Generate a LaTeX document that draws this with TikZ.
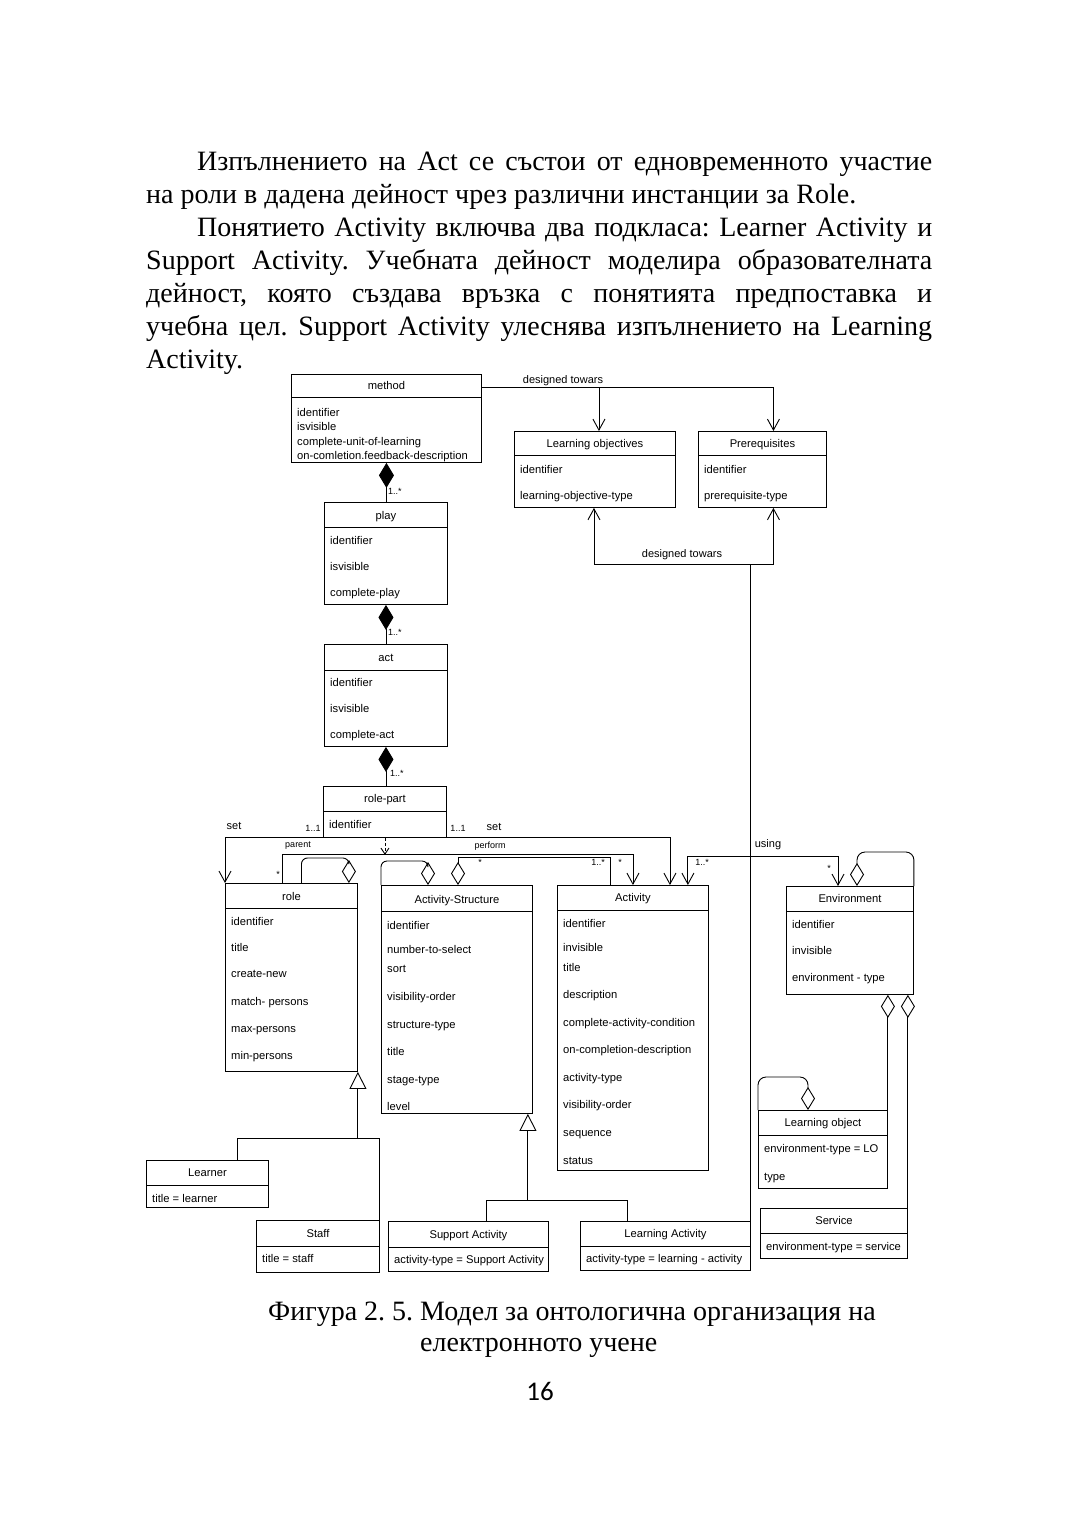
\documentclass[tikz,border=0pt]{standalone}
\usepackage{fontspec}
\setmainfont{Liberation Serif}
\newfontfamily\umlsans{Liberation Sans}
\newfontfamily\pagenum{Carlito}
\usetikzlibrary{arrows.meta,calc,positioning}
\frenchspacing

\tikzset{
  tekst/.style={font=\fontsize{28}{33}\selectfont, anchor=base west, inner sep=0pt},
  klas/.style={draw, line width=0.9pt, inner sep=0pt, anchor=north west},
  ime/.style={font=\umlsans\fontsize{11.2}{13}\selectfont, anchor=base, inner sep=0pt},
  attr/.style={font=\umlsans\fontsize{11.2}{13}\selectfont, anchor=base west, inner sep=0pt},
  etiket/.style={font=\umlsans\fontsize{11}{13}\selectfont, inner sep=0pt},
  malak/.style={font=\umlsans\fontsize{9}{11}\selectfont, inner sep=0pt},
  vrazka/.style={line width=0.9pt},
  strelka/.style={vrazka, -{Straight Barb[length=11pt,width=12pt]}},
  dvoyna/.style={vrazka, {Straight Barb[length=11pt,width=12pt]}-{Straight Barb[length=11pt,width=12pt]}},
  komp/.style={vrazka, {Diamond[length=25pt,width=15pt]}-},
  agr/.style={vrazka, {Diamond[open,length=23pt,width=14pt]}-},
  gen/.style={vrazka, {Triangle[open,length=17pt,width=17pt]}-}
}

\begin{document}
\begin{tikzpicture}[x=1pt, y=-1pt]
    \useasboundingbox (0,0) rectangle (1080,1532);
    \fill[white] (0,0) rectangle (1080,1532);

    % текст над фигурата
    \node[tekst] (p1) at (197,170) {\makebox[735pt][s]{Изпълнението на Act се състои от едновременното участие}};
    \node[tekst] (p2) at (146,203) {на роли в дадена дейност чрез различни инстанции за Role.};
    \node[tekst] (p3) at (197,236) {\makebox[735pt][s]{Понятието Activity включва два подкласа: Learner Activity и}};
    \node[tekst] (p4) at (146,269) {\makebox[786pt][s]{Support Activity. Учебната дейност моделира образователната}};
    \node[tekst] (p5) at (146,302) {\makebox[786pt][s]{дейност, която създава връзка с понятията предпоставка и}};
    \node[tekst] (p6) at (146,335) {\makebox[786pt][s]{учебна цел. Support Activity улеснява изпълнението на Learning}};
    \node[tekst] (p7) at (146,368) {Activity.};

    % класове: име/x/y/ширина/височина/линия/заглавие/y на заглавието
    \foreach \n/\x/\y/\w/\h/\hy/\t/\ty in {
        method/291/374/190/88/397/method/385,
        lo/514/431/161/76/455/Learning objectives/443,
        prq/698/431/128/76/455/Prerequisites/443,
        play/324/502/123/102/527/play/515,
        act/324/644/123/102/670/act/657,
        rp/323/786/123/51/811/role-part/798,
        role/225/883/132/188/908/role/896,
        as/381/885/151/228/911/Activity-Structure/899,
        actv/557/885/151/285/910/Activity/897,
        env/786/886/127/108/911/Environment/898,
        lobj/758/1110/129/78/1135/Learning object/1122,
        srv/760/1208/147/50/1233/Service/1220,
        lrn/146/1160/122/47/1185/Learner/1172,
        stf/256/1220/123/52/1246/Staff/1233,
        sup/388/1221/160/50/1247/Support Activity/1234,
        lact/580/1221/170/49/1246/Learning Activity/1233} {
        \node[klas, minimum width=\w, minimum height=\h] (\n) at (\x,\y) {};
        \draw[vrazka] (\n.west |- 0,\hy) -- (\n.east |- 0,\hy);
        \node[ime] (\n-t) at ($(\n.north |- 0,\ty)+(0,4)$) {\t};
    }

    % атрибути
    \foreach \n/\l in {
        method/{412/identifier,426/isvisible,441/complete-unit-of-learning,455/on-comletion.feedback-description},
        lo/{469/identifier,495/learning-objective-type},
        prq/{469/identifier,495/prerequisite-type},
        play/{540/identifier,566/isvisible,592/complete-play},
        act/{682/identifier,708/isvisible,734/complete-act},
        rp/{824/identifier},
        role/{921/identifier,947/title,973/create-new,1001/match- persons,1028/max-persons,1055/min-persons},
        as/{925/identifier,949/number-to-select,968/sort,996/visibility-order,1024/structure-type,1051/title,1079/stage-type,1106/level},
        actv/{923/identifier,947/invisible,967/title,994/description,1022/complete-activity-condition,1049/on-completion-description,1077/activity-type,1104/visibility-order,1132/sequence,1160/status},
        env/{924/identifier,950/invisible,977/environment - type},
        lobj/{1148/environment-type = LO,1176/type},
        srv/{1246/environment-type = service},
        lrn/{1198/title = learner},
        stf/{1258/title = staff},
        sup/{1259/activity-type = Support Activity},
        lact/{1258/activity-type = learning - activity}} {
        \foreach \ay/\a [count=\i] in \l {
            \node[attr] (\n-a\i) at ($(\n.west |- 0,\ay)+(6,4)$) {\a};
        }
    }

    % designed towars
    \coordinate (dt) at ($(method.north east)+(0,13)$);
    \draw[strelka] (dt) -| ($(prq.north)+(11,0)$);
    \draw[strelka] ($(dt -| lo.north)+(4,0)$) -- ($(lo.north)+(4,0)$);
    \node[etiket] (dt-l) at (563,381) {designed towars};
    \coordinate (db) at (lact.north east |- 0,564);
    \draw[vrazka] (lact.north east) -- (db);
    \draw[strelka] (db) -| ($(prq.south)+(11,0)$);
    \draw[strelka] (db) -| ($(lo.south)+(-1,0)$);
    \node[etiket] (db-l) at (682,555) {designed towars};

    % композиция
    \draw[komp] (method.south) -- (method.south |- play.north);
    \draw[komp] (play.south) -- (act.north);
    \draw[komp] (act.south) -- (act.south |- rp.north);
    \node[malak, anchor=west] (k1) at (388,491) {1..*};
    \node[malak, anchor=west] (k2) at (388,632) {1..*};
    \node[malak, anchor=west] (k3) at (390,773) {1..*};

    % role-part
    \draw[strelka] (rp.south west) -| (role.north west);
    \draw[strelka] (rp.south east) -| ($(actv.north)+(37,0)$);
    \draw[strelka] ($(role.north)+(-9,0)$) -- ++(0,-29) -| (actv.north);
    \coordinate (rpd) at ($(rp.south)+(0,17)$);
    \draw[vrazka, dashed, dash pattern=on 3pt off 2pt, -{Straight Barb[length=6pt,width=8pt]}] (rp.south) -- (rpd);
    \node[etiket] (s1) at (234,826) {set};
    \node[malak] (m1) at (313,828) {1..1};
    \node[malak] (m2) at (458,828) {1..1};
    \node[etiket] (s2) at (494,827) {set};
    \node[malak] (par) at (298,846) {parent};
    \node[malak] (per) at (490,846) {perform};
    \node[malak] (z1) at (278,874) {*};
    \node[malak] (z2) at (620,862) {*};

    % агрегации
    \draw[agr, rounded corners=6pt] ($(role.north east)+(-9,0)$) -- ++(0,-25) -| ($(role.north)+(10,0)$);
    \draw[agr, rounded corners=6pt] ($(as.north west)+(47,0)$) -- ++(0,-24) -| (as.north west);
    \draw[agr] ($(as.north west)+(77,0)$) -- ++(0,-28) -| ($(actv.north west)+(53,0)$);
    \node[malak] (z3) at (480,862) {*};
    \node[malak] (m3) at (598,862) {1..*};

    % using
    \draw[dvoyna] ($(actv.north east)+(-21,0)$) -- ++(0,-29) -| ($(env.north west)+(52,0)$);
    \node[etiket] (us) at (768,845) {using};
    \node[malak] (m4) at (702,862) {1..*};
    \node[malak] (z4) at (829,868) {*};

    % Environment
    \draw[agr, rounded corners=8pt] ($(env.north west)+(71,0)$) -- ++(0,-34) -| (env.north east);
    \draw[agr] ($(env.south east)+(-26,0)$) -- (lobj.north east);
    \draw[agr] ($(env.south east)+(-6,0)$) -- (srv.north east);
    \draw[agr, rounded corners=8pt] ($(lobj.north west)+(50,0)$) -- ++(0,-33) -| (lobj.north west);

    % наследяване
    \draw[gen] (role.south east) -- ++(0,67) coordinate (g1);
    \draw[vrazka] (g1) -| ($(lrn.north west)+(91,0)$);
    \draw[vrazka] (g1) -| (stf.north east);
    \draw[gen] ($(as.south east)+(-5,0)$) -- ++(0,87) coordinate (g2);
    \draw[vrazka] (g2) -| ($(sup.north west)+(98,0)$);
    \draw[vrazka] (g2) -| ($(lact.north west)+(47,0)$);

    % надпис
    \node[tekst] (c1) at (268,1320) {Фигура 2. 5. Модел за онтологична организация на};
    \node[tekst] (c2) at (420,1351) {електронното учене};
    \node[font=\pagenum\fontsize{27}{30}\selectfont, anchor=base, inner sep=0pt] (pn) at (540,1400) {16};
\end{tikzpicture}
\end{document}
